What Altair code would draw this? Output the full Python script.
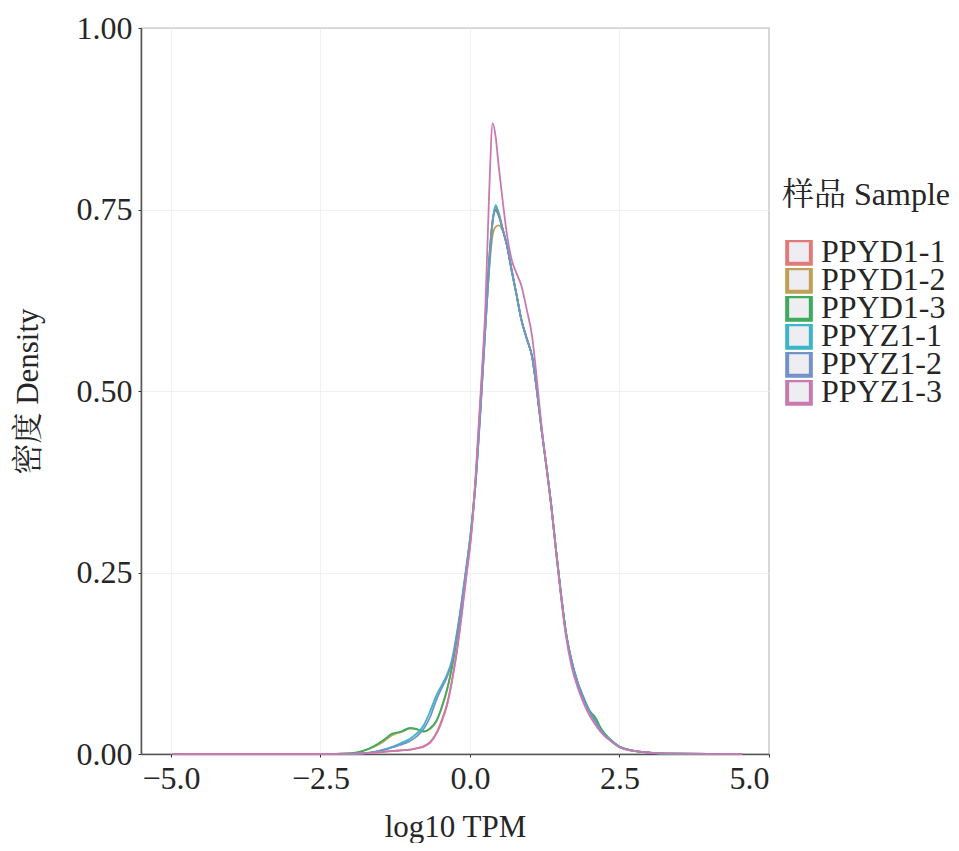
import altair as alt
import pandas as pd

samples = ["PPYD1-1", "PPYD1-2", "PPYD1-3", "PPYZ1-1", "PPYZ1-2", "PPYZ1-3"]
colors = ["#E07B78", "#BFA054", "#3DAA5C", "#3BB5C8", "#7393C8", "#C87AB0"]

x_grid = [-4.97, -3.5, -2.5, -2.0, -1.8, -1.6, -1.45, -1.3, -1.15, -1.0, -0.88, -0.77,
          -0.66, -0.56, -0.47, -0.38, -0.3, -0.22, -0.14, -0.06, 0.02, 0.1, 0.18, 0.26,
          0.32, 0.38, 0.43, 0.48, 0.55, 0.62, 0.7, 0.78, 0.86, 0.95, 1.04, 1.12, 1.2,
          1.28, 1.36, 1.44, 1.52, 1.6, 1.7, 1.8, 1.9, 2.0, 2.1, 2.2, 2.35, 2.5, 2.7,
          3.0, 3.4, 4.0, 4.55]

ppyd1_1 = [0, 0, 0, 0.0003, 0.001, 0.002, 0.003, 0.004, 0.005, 0.006, 0.008, 0.011,
           0.017, 0.029, 0.047, 0.07, 0.102, 0.142, 0.192, 0.247, 0.302, 0.382, 0.485, 0.6,
           0.68, 0.735, 0.748, 0.742, 0.722, 0.70, 0.665, 0.632, 0.598, 0.572, 0.547, 0.50, 0.445,
           0.395, 0.342, 0.28, 0.222, 0.17, 0.128, 0.098, 0.076, 0.058, 0.044, 0.031, 0.019, 0.010, 0.005,
           0.002, 0.0005, 0.0001, 0]
ppyd1_2 = [0, 0, 0, 0.001, 0.004, 0.010, 0.017, 0.026, 0.030, 0.035, 0.034, 0.031,
           0.035, 0.045, 0.064, 0.089, 0.12, 0.158, 0.203, 0.253, 0.305, 0.38, 0.48, 0.59,
           0.665, 0.715, 0.726, 0.728, 0.72, 0.70, 0.665, 0.632, 0.598, 0.572, 0.547, 0.50, 0.445,
           0.395, 0.342, 0.28, 0.222, 0.17, 0.128, 0.098, 0.077, 0.059, 0.046, 0.032, 0.019, 0.010, 0.005,
           0.002, 0.0005, 0.0001, 0]
ppyd1_3 = [0, 0, 0, 0.001, 0.004, 0.011, 0.019, 0.028, 0.031, 0.036, 0.034, 0.031,
           0.036, 0.046, 0.065, 0.09, 0.12, 0.16, 0.205, 0.255, 0.31, 0.385, 0.49, 0.60,
           0.68, 0.735, 0.75, 0.742, 0.722, 0.70, 0.665, 0.632, 0.598, 0.572, 0.547, 0.50, 0.445,
           0.395, 0.342, 0.28, 0.222, 0.17, 0.128, 0.099, 0.078, 0.060, 0.050, 0.034, 0.020, 0.010, 0.005,
           0.002, 0.0005, 0.0001, 0]
ppyz1_1 = [0, 0, 0, 0.0005, 0.001, 0.003, 0.006, 0.010, 0.015, 0.021, 0.029, 0.040,
           0.060, 0.081, 0.095, 0.11, 0.13, 0.166, 0.21, 0.258, 0.31, 0.38, 0.48, 0.59,
           0.67, 0.735, 0.756, 0.745, 0.722, 0.70, 0.665, 0.632, 0.598, 0.572, 0.547, 0.50, 0.445,
           0.395, 0.342, 0.28, 0.222, 0.17, 0.128, 0.098, 0.076, 0.058, 0.045, 0.031, 0.019, 0.010, 0.005,
           0.002, 0.0005, 0.0001, 0]
ppyz1_2 = [0, 0, 0, 0.0005, 0.001, 0.003, 0.005, 0.009, 0.013, 0.018, 0.025, 0.035,
           0.052, 0.075, 0.091, 0.107, 0.127, 0.163, 0.207, 0.256, 0.308, 0.378, 0.478, 0.59,
           0.67, 0.733, 0.753, 0.745, 0.722, 0.70, 0.665, 0.632, 0.598, 0.572, 0.547, 0.50, 0.445,
           0.395, 0.342, 0.28, 0.222, 0.17, 0.128, 0.098, 0.076, 0.058, 0.045, 0.031, 0.019, 0.010, 0.005,
           0.002, 0.0005, 0.0001, 0]
ppyz1_3 = [0, 0, 0, 0.0003, 0.001, 0.002, 0.003, 0.004, 0.005, 0.006, 0.008, 0.010,
           0.016, 0.028, 0.045, 0.068, 0.10, 0.14, 0.19, 0.245, 0.30, 0.39, 0.50, 0.62,
           0.77, 0.869, 0.85, 0.81, 0.76, 0.715, 0.68, 0.662, 0.645, 0.612, 0.575, 0.515, 0.45,
           0.395, 0.34, 0.278, 0.218, 0.165, 0.12, 0.092, 0.07, 0.053, 0.040, 0.029, 0.018, 0.009, 0.0045,
           0.002, 0.0005, 0.0001, 0]

series = [ppyd1_1, ppyd1_2, ppyd1_3, ppyz1_1, ppyz1_2, ppyz1_3]
rows = []
for name, vals in zip(samples, series):
    for xv, yv in zip(x_grid, vals):
        rows.append({"x": xv, "y": yv, "sample": name})
df = pd.DataFrame(rows)

FONT = "Liberation Serif, Noto Serif CJK SC, Noto Sans CJK SC"
TXT = "#262626"

chart = alt.Chart(df).mark_line(strokeWidth=1.8, interpolate="monotone").encode(
    x=alt.X("x:Q", title="log10 TPM",
            scale=alt.Scale(domain=[-5.5, 5.0], nice=False, zero=False),
            axis=alt.Axis(values=[-5, -2.5, 0, 2.5, 5], format=".1f")),
    y=alt.Y("y:Q", title="密度 Density",
            scale=alt.Scale(domain=[0, 1], nice=False),
            axis=alt.Axis(values=[0, 0.25, 0.5, 0.75, 1.0], format=".2f")),
    color=alt.Color("sample:N", title="样品 Sample",
                    scale=alt.Scale(domain=samples, range=colors),
                    legend=alt.Legend(orient="none", legendX=641, legendY=152,
                                      symbolType="square", symbolSize=560,
                                      symbolStrokeWidth=4, symbolFillColor="#EEEEF2",
                                      symbolOpacity=1, rowPadding=-4, clipHeight=24,
                                      labelOffset=6, symbolOffset=1, titlePadding=28,
                                      labelFont=FONT, titleFont=FONT,
                                      labelFontSize=32, titleFontSize=32)),
    detail="sample:N",
).properties(
    width=628, height=726,
    autosize=alt.AutoSizeParams(type="none"),
    padding={"left": 133, "top": 20, "right": 182, "bottom": 89},
).configure_view(
    stroke="#777777", strokeWidth=1.2
).configure_axis(
    labelFont=FONT, titleFont=FONT, labelFontSize=32, titleFontSize=31,
    labelColor=TXT, titleColor=TXT, titleFontWeight="normal",
    domainColor="#555555", domainWidth=1.5, tickColor="#333333", tickSize=3,
    gridColor="#EDEDED", gridWidth=0.8, labelPadding=6,
).configure_axisX(
    titlePadding=18,
).configure_axisY(
    titlePadding=32,
).configure_legend(
    labelFont=FONT, titleFont=FONT, labelFontSize=32, titleFontSize=32,
    labelColor=TXT, titleColor=TXT, titleFontWeight="normal",
)

chart.save("out.html", embed_options={"renderer": "svg", "actions": False})
